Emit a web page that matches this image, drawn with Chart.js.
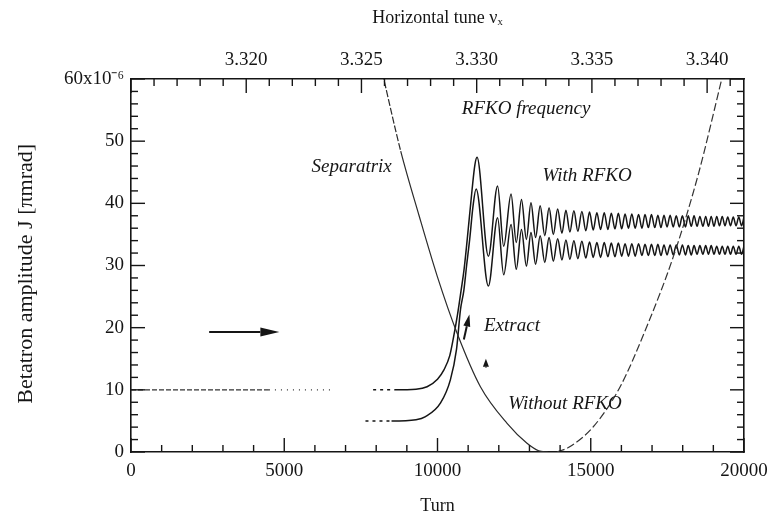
<!DOCTYPE html>
<html>
<head>
  <title>Betatron amplitude with RFKO</title>
  <script src="https://cdn.jsdelivr.net/npm/chart.js"></script>
  <style>
    body { margin: 0; background: #fff; }
  </style>
</head>
<body>
  <canvas id="chartRfko" width="781" height="526"></canvas>

  <script>
    // values; turn on x, J in units of 1e-6 pi mrad
    const sepTurn = [8200, 8800, 9400, 9990, 10640, 11400, 12270, 12920, 13300, 13600];
    const sepJ = [61, 48.4, 38, 28.3, 19.1, 10.5, 4.6, 1.4, 0.2, 0];

    const rfTurn = [13900, 14300, 15090, 15960, 16830, 17700, 18500, 19300];
    const rfJ = [0, 0.8, 4.1, 10.5, 20.2, 31.5, 44.5, 60.5];

    const upperLeadTurn = [0, 4500, 6500];
    const upperLeadJ = [10, 10, 10];

    const upperRiseTurn = [7900, 8600, 9300, 9660, 10000, 10210, 10400, 10510, 10650, 10770, 10870, 10970, 11130, 11220, 11290];
    const upperRiseJ = [10, 10, 10.1, 10.5, 11.7, 13.2, 15.5, 18.1, 22, 26, 29.5, 34.2, 42.3, 46.2, 47.4];

    const lowerRiseTurn = [7650, 8500, 9300, 9610, 10100, 10420, 10620, 10750, 10860, 10950, 11050, 11160, 11260];
    const lowerRiseJ = [5, 5, 5.2, 5.7, 7.9, 11.6, 16.5, 22.9, 26, 30, 34.2, 39.6, 42.3];

    // oscillation after the first peak: troughs and peaks (both curves in phase)
    const troughTurn = [11660, 12160, 12570, 12900, 13200, 13500, 13780, 14060, 14320, 14580, 14840, 15080, 15320, 15560, 15790, 16010, 16230, 16450, 16670, 16880, 17090, 17290, 17490, 17690, 17890, 18090, 18280, 18470, 18660, 18840, 19020, 19200, 19380, 19560, 19740, 19920];
    const peakTurn = [11960, 12400, 12740, 13050, 13350, 13640, 13920, 14190, 14450, 14710, 14960, 15200, 15440, 15670, 15900, 16120, 16340, 16560, 16770, 16980, 17190, 17390, 17590, 17790, 17990, 18180, 18370, 18560, 18750, 18930, 19110, 19290, 19470, 19650, 19830, 20000];

    const upperTroughJ = [31.5, 33.1, 33.7, 34.2, 34.5, 34.8, 35.0, 35.2, 35.4, 35.5, 35.6, 35.7, 35.8, 35.8, 35.9, 35.9, 36.0, 36.0, 36.0, 36.1, 36.1, 36.1, 36.2, 36.2, 36.2, 36.2, 36.3, 36.3, 36.3, 36.3, 36.3, 36.4, 36.4, 36.4, 36.4, 36.4];
    const upperPeakJ = [42.8, 41.5, 40.6, 40.1, 39.6, 39.3, 39.1, 38.9, 38.8, 38.7, 38.6, 38.5, 38.5, 38.4, 38.4, 38.3, 38.3, 38.2, 38.2, 38.2, 38.1, 38.1, 38.1, 38.0, 38.0, 38.0, 38.0, 37.9, 37.9, 37.9, 37.9, 37.9, 37.8, 37.8, 37.8, 37.8];
    const lowerTroughJ = [26.7, 28.5, 29.4, 29.9, 30.2, 30.5, 30.7, 30.9, 31.0, 31.1, 31.2, 31.3, 31.3, 31.4, 31.4, 31.5, 31.5, 31.5, 31.6, 31.6, 31.6, 31.6, 31.7, 31.7, 31.7, 31.7, 31.7, 31.8, 31.8, 31.8, 31.8, 31.8, 31.8, 31.8, 31.8, 31.8];
    const lowerPeakJ = [37.7, 36.6, 35.8, 35.3, 34.8, 34.5, 34.3, 34.1, 34.0, 33.9, 33.8, 33.7, 33.7, 33.6, 33.6, 33.5, 33.5, 33.5, 33.4, 33.4, 33.4, 33.3, 33.3, 33.3, 33.3, 33.2, 33.2, 33.2, 33.2, 33.2, 33.1, 33.1, 33.1, 33.1, 33.1, 33.1];

    const turnLabels = [0, 5000, 10000, 15000, 20000];
    const ampLabels = [0, 10, 20, 30, 40, 50, 60];
    const tuneLabels = [3.320, 3.325, 3.330, 3.335, 3.340];

    const pts = (xs, ys) => xs.map((x, i) => ({ x: x, y: ys[i] }));
    const withWiggle = (riseT, riseJ, troughJ, peakJ) => {
      const out = pts(riseT, riseJ);
      troughTurn.forEach((t, i) => {
        out.push({ x: t, y: troughJ[i] });
        out.push({ x: peakTurn[i], y: peakJ[i] });
      });
      return out;
    };

    const ink = '#151515';
    const lead = ctx => ctx.p1.parsed.x <= 8700 ? [3, 4] : undefined;

    const datasets = [
      { data: pts(sepTurn, sepJ), borderColor: '#2a2a2a', borderWidth: 1.2,
        segment: { borderDash: ctx => ctx.p1.parsed.y >= 45 ? [7, 2] : undefined } },
      { data: pts(rfTurn, rfJ), borderColor: '#333', borderWidth: 1.2, borderDash: [8, 3] },
      { data: pts(upperLeadTurn, upperLeadJ), borderColor: '#333', borderWidth: 1.3,
        segment: { borderDash: ctx => ctx.p0.parsed.x >= 4500 ? [1, 5] : [5, 2] } },
      { data: withWiggle(upperRiseTurn, upperRiseJ, upperTroughJ, upperPeakJ), borderColor: ink, borderWidth: 1.5,
        segment: { borderDash: lead } },
      { data: withWiggle(lowerRiseTurn, lowerRiseJ, lowerTroughJ, lowerPeakJ), borderColor: ink, borderWidth: 1.5,
        segment: { borderDash: lead } }
    ].map(d => Object.assign({ showLine: true, pointRadius: 0, cubicInterpolationMode: 'monotone', fill: false }, d));

    // tick marks point into the plot on all four sides
    const inwardTicks = {
      id: 'inwardTicks',
      afterDatasetsDraw(chart) {
        const { ctx, chartArea: a, scales } = chart;
        const line = (x1, y1, x2, y2) => { ctx.beginPath(); ctx.moveTo(x1, y1); ctx.lineTo(x2, y2); ctx.stroke(); };
        ctx.save();
        ctx.strokeStyle = ink;
        ctx.lineWidth = 1.4;
        for (let t = 0; t <= 20000; t += 1000) {
          const x = scales.x.getPixelForValue(t);
          line(x, a.bottom, x, a.bottom - (t % 5000 === 0 ? 14 : 7));
        }
        for (let k = 3315; k <= 3341; k++) {
          const x = scales.x2.getPixelForValue(k / 1000);
          line(x, a.top, x, a.top + (k % 5 === 0 ? 14 : 7));
        }
        for (let j = 0; j <= 60; j += 2) {
          const y = scales.y.getPixelForValue(j);
          const len = j % 10 === 0 ? 14 : 7;
          line(a.left, y, a.left + len, y);
          line(a.right, y, a.right - len, y);
        }
        ctx.restore();
      }
    };

    const notes = [
      { text: 'RFKO frequency', turn: 12890, amp: 55.2 },
      { text: 'Separatrix', turn: 7200, amp: 45.8 },
      { text: 'With RFKO', turn: 14880, amp: 44.4 },
      { text: 'Extract', turn: 12430, amp: 20.3 },
      { text: 'Without RFKO', turn: 14160, amp: 7.7 }
    ];
    const arrows = [
      { from: [2550, 19.3], to: [4840, 19.3], head: 19, half: 4.5 },
      { from: [10860, 18.1], to: [11040, 22.1], head: 12, half: 3.5 },
      { from: [11580, 13.6], to: [11580, 15.0], head: 8, half: 3 }
    ];

    const annotate = {
      id: 'annotate',
      afterDatasetsDraw(chart) {
        const { ctx, scales: { x, y } } = chart;
        ctx.save();
        ctx.fillStyle = ink;
        ctx.strokeStyle = ink;
        ctx.font = 'italic 19px "Liberation Serif", serif';
        ctx.textAlign = 'center';
        ctx.textBaseline = 'middle';
        notes.forEach(n => ctx.fillText(n.text, x.getPixelForValue(n.turn), y.getPixelForValue(n.amp)));
        arrows.forEach(ar => {
          const x1 = x.getPixelForValue(ar.from[0]), y1 = y.getPixelForValue(ar.from[1]);
          const x2 = x.getPixelForValue(ar.to[0]), y2 = y.getPixelForValue(ar.to[1]);
          const ang = Math.atan2(y2 - y1, x2 - x1);
          const bx = x2 - ar.head * Math.cos(ang), by = y2 - ar.head * Math.sin(ang);
          ctx.lineWidth = 2;
          if (Math.hypot(x2 - x1, y2 - y1) > ar.head) {
            ctx.beginPath(); ctx.moveTo(x1, y1); ctx.lineTo(bx, by); ctx.stroke();
          }
          ctx.beginPath();
          ctx.moveTo(x2, y2);
          ctx.lineTo(bx + ar.half * Math.sin(ang), by - ar.half * Math.cos(ang));
          ctx.lineTo(bx - ar.half * Math.sin(ang), by + ar.half * Math.cos(ang));
          ctx.closePath();
          ctx.fill();
        });
        ctx.restore();
      }
    };

    Chart.defaults.font.family = '"Liberation Serif", "Times New Roman", serif';
    Chart.defaults.color = ink;

    const border = { display: true, color: ink, width: 1.6 };
    const tickFont = { size: 19 };

    new Chart(document.getElementById('chartRfko'), {
      type: 'scatter',
      data: { datasets: datasets },
      options: {
        responsive: false,
        animation: false,
        layout: { padding: 0 },
        plugins: { legend: { display: false }, tooltip: { enabled: false } },
        scales: {
          x: {
            type: 'linear', position: 'bottom', min: 0, max: 20000,
            afterBuildTicks: s => { s.ticks = turnLabels.map(v => ({ value: v })); },
            afterFit: s => { s.height = 74; },
            grid: { display: false, drawTicks: false }, border: border,
            ticks: { font: tickFont, padding: 8, maxRotation: 0, callback: v => String(v) },
            title: { display: true, text: 'Turn', font: { size: 18 }, padding: { bottom: 9 } }
          },
          x2: {
            type: 'linear', position: 'top', min: 3.315, max: 3.3416, display: true,
            afterBuildTicks: s => { s.ticks = tuneLabels.map(v => ({ value: v })); },
            afterFit: s => { s.height = 79; },
            grid: { display: false, drawTicks: false }, border: border,
            ticks: { font: tickFont, padding: 8, maxRotation: 0, callback: v => v.toFixed(3) },
            title: { display: true, text: 'Horizontal tune \u03bd\u2093', font: { size: 18 }, padding: { top: 7 } }
          },
          y: {
            type: 'linear', position: 'left', min: 0, max: 60,
            afterBuildTicks: s => { s.ticks = ampLabels.map(v => ({ value: v })); },
            afterFit: s => { s.width = 131; },
            grid: { display: false, drawTicks: false }, border: border,
            ticks: { font: tickFont, padding: 7, callback: v => v === 60 ? '60x10\u207b\u2076' : String(v) },
            title: { display: true, text: 'Betatron amplitude J [\u03c0mrad]   ', font: { size: 22 }, padding: { top: 13 } }
          },
          y2: {
            type: 'linear', position: 'right', min: 0, max: 60, display: true,
            afterFit: s => { s.width = 37; },
            grid: { display: false, drawTicks: false }, border: border,
            ticks: { display: false }
          }
        }
      },
      plugins: [inwardTicks, annotate]
    });
  </script>
</body>
</html>
